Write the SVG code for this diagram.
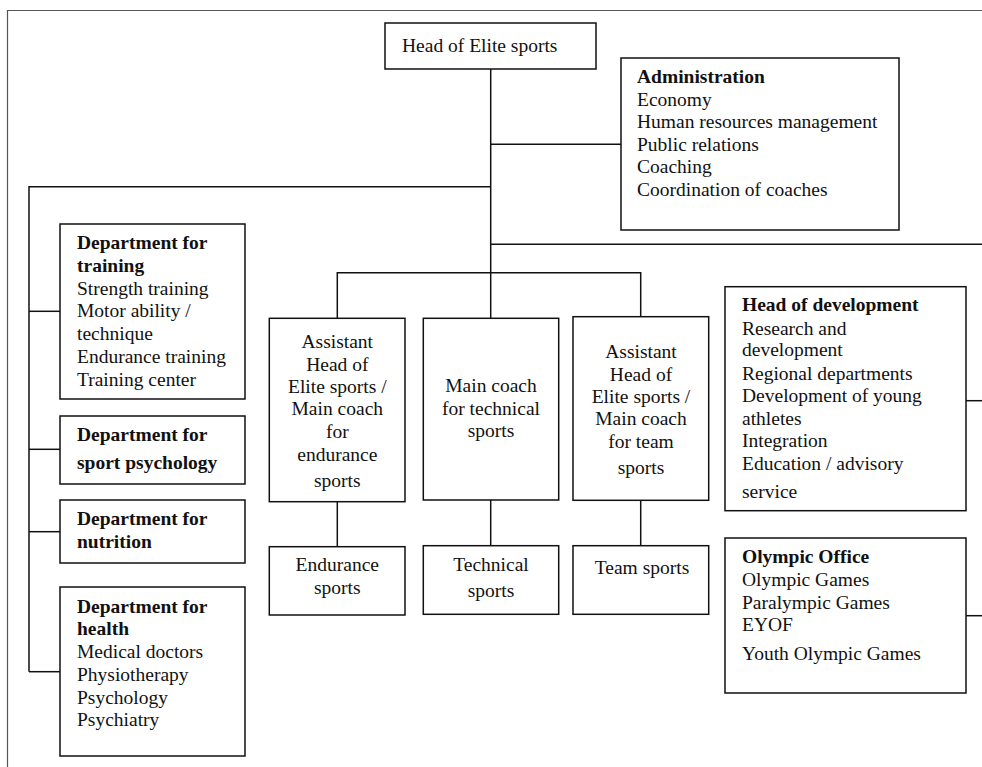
<svg xmlns="http://www.w3.org/2000/svg" width="982" height="767" viewBox="0 0 982 767">
  <style>
    .box { fill: #ffffff; stroke: #111111; stroke-width: 1.5; }
    .frame { fill: none; stroke: #555555; stroke-width: 1.2; }
    .link { fill: none; stroke: #111111; stroke-width: 1.5; }
    text { font-family: "Liberation Serif", "Times New Roman", serif; font-size: 19.5px; fill: #111111; }
    .b { font-weight: bold; }
    .c { text-anchor: middle; }
  </style>

  <rect width="982" height="767" fill="#ffffff"/>

  <!-- page frame (open at right and bottom) -->
  <path class="frame" d="M7.5,767 V10.5 H982"/>

  <!-- connectors -->
  <g id="connectors">
    <!-- main trunk -->
    <path class="link" d="M490.7,69 V318.3"/>
    <!-- administration branch -->
    <path class="link" d="M490.7,144.3 H621"/>
    <!-- left departments branch -->
    <path class="link" d="M490.7,186.7 H29 V671.7"/>
    <path class="link" d="M29,311.3 H60"/>
    <path class="link" d="M29,449.3 H60"/>
    <path class="link" d="M29,531.7 H60"/>
    <path class="link" d="M29,671.7 H60"/>
    <!-- right branch -->
    <path class="link" d="M490.7,244.3 H982"/>
    <path class="link" d="M966,400.7 H982"/>
    <path class="link" d="M966,615.7 H982"/>
    <!-- coaches branch -->
    <path class="link" d="M337.3,318.3 V272.7 H640.7 V316.7"/>
    <path class="link" d="M337.3,501.7 V546.7"/>
    <path class="link" d="M490.7,500 V545.7"/>
    <path class="link" d="M640.7,500.3 V545.7"/>
  </g>

  <g id="head-elite">
    <rect class="box" x="385" y="23" width="211" height="46"/>
    <text x="402" y="52">Head of Elite sports</text>
  </g>

  <g id="administration">
    <rect class="box" x="621" y="58" width="278" height="172"/>
    <text x="637" y="83" class="b">Administration</text>
    <text x="637" y="106">Economy</text>
    <text x="637" y="128">Human resources management</text>
    <text x="637" y="151">Public relations</text>
    <text x="637" y="173">Coaching</text>
    <text x="637" y="196">Coordination of coaches</text>
  </g>

  <g id="dept-training">
    <rect class="box" x="60" y="224" width="185" height="175"/>
    <text x="77" y="249" class="b">Department for</text>
    <text x="77" y="272" class="b">training</text>
    <text x="77" y="295">Strength training</text>
    <text x="77" y="317">Motor ability /</text>
    <text x="77" y="340">technique</text>
    <text x="77" y="363">Endurance training</text>
    <text x="77" y="386">Training center</text>
  </g>

  <g id="dept-psychology">
    <rect class="box" x="60" y="416" width="185" height="68"/>
    <text x="77" y="441" class="b">Department for</text>
    <text x="77" y="469" class="b">sport psychology</text>
  </g>

  <g id="dept-nutrition">
    <rect class="box" x="60" y="500" width="185" height="63"/>
    <text x="77" y="525" class="b">Department for</text>
    <text x="77" y="548" class="b">nutrition</text>
  </g>

  <g id="dept-health">
    <rect class="box" x="60" y="587" width="185" height="169"/>
    <text x="77" y="613" class="b">Department for</text>
    <text x="77" y="635" class="b">health</text>
    <text x="77" y="658">Medical doctors</text>
    <text x="77" y="681">Physiotherapy</text>
    <text x="77" y="704">Psychology</text>
    <text x="77" y="726">Psychiatry</text>
  </g>

  <g id="coach-endurance">
    <rect class="box" x="269.3" y="318.3" width="135.7" height="183.4"/>
    <text class="c" x="337.3" y="348">Assistant</text>
    <text class="c" x="337.3" y="371">Head of</text>
    <text class="c" x="337.3" y="393">Elite sports /</text>
    <text class="c" x="337.3" y="415">Main coach</text>
    <text class="c" x="337.3" y="438">for</text>
    <text class="c" x="337.3" y="461">endurance</text>
    <text class="c" x="337.3" y="487">sports</text>
  </g>

  <g id="coach-technical">
    <rect class="box" x="423.3" y="318.3" width="135.4" height="181.7"/>
    <text class="c" x="491" y="392">Main coach</text>
    <text class="c" x="491" y="415">for technical</text>
    <text class="c" x="491" y="437">sports</text>
  </g>

  <g id="coach-team">
    <rect class="box" x="573" y="316.7" width="135.7" height="183.6"/>
    <text class="c" x="641" y="358">Assistant</text>
    <text class="c" x="641" y="381">Head of</text>
    <text class="c" x="641" y="403">Elite sports /</text>
    <text class="c" x="641" y="425">Main coach</text>
    <text class="c" x="641" y="448">for team</text>
    <text class="c" x="641" y="474">sports</text>
  </g>

  <g id="endurance-sports">
    <rect class="box" x="269.3" y="546.7" width="135.7" height="68.3"/>
    <text class="c" x="337.3" y="571">Endurance</text>
    <text class="c" x="337.3" y="594">sports</text>
  </g>

  <g id="technical-sports">
    <rect class="box" x="423.3" y="545.7" width="135.4" height="68.6"/>
    <text class="c" x="491" y="571">Technical</text>
    <text class="c" x="491" y="597">sports</text>
  </g>

  <g id="team-sports">
    <rect class="box" x="573" y="545.7" width="135.7" height="68.6"/>
    <text class="c" x="642" y="574">Team sports</text>
  </g>

  <g id="head-development">
    <rect class="box" x="725" y="286.7" width="241" height="224"/>
    <text x="742" y="311" class="b">Head of development</text>
    <text x="742" y="335">Research and</text>
    <text x="742" y="356">development</text>
    <text x="742" y="380">Regional departments</text>
    <text x="742" y="402">Development of young</text>
    <text x="742" y="425">athletes</text>
    <text x="742" y="447">Integration</text>
    <text x="742" y="470">Education / advisory</text>
    <text x="742" y="498">service</text>
  </g>

  <g id="olympic-office">
    <rect class="box" x="725" y="538" width="241" height="155"/>
    <text x="742" y="563" class="b">Olympic Office</text>
    <text x="742" y="586">Olympic Games</text>
    <text x="742" y="609">Paralympic Games</text>
    <text x="742" y="631">EYOF</text>
    <text x="742" y="660">Youth Olympic Games</text>
  </g>
</svg>
